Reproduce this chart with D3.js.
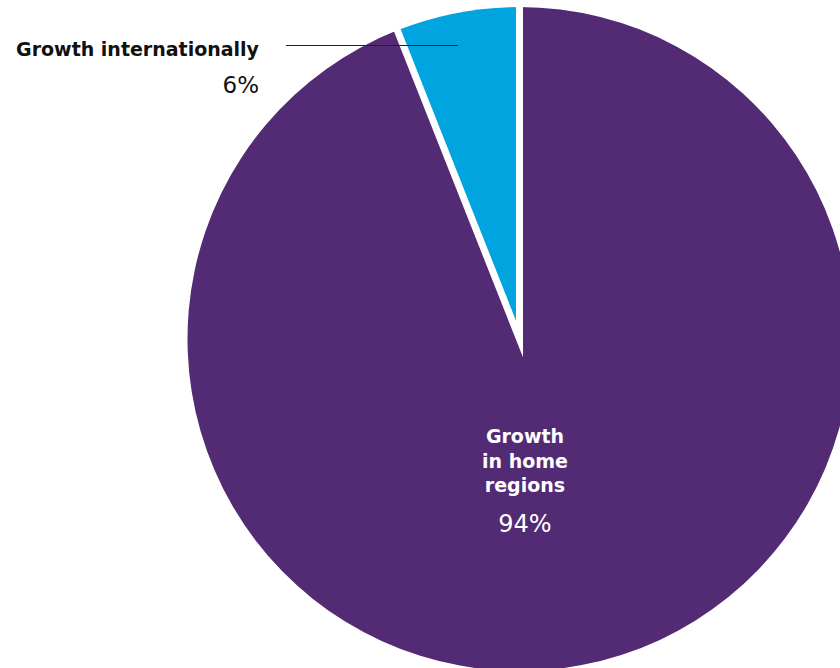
<!DOCTYPE html>
<html>
<head>
<meta charset="utf-8">
<script src="https://cdn.jsdelivr.net/npm/d3@7"></script>
<style>
  html, body { margin: 0; padding: 0; background: #ffffff; }
  svg { display: block; }
  text { font-family: "DejaVu Sans", sans-serif; }
</style>
</head>
<body>
<svg id="chart" width="840" height="668"></svg>
<script>
// Share of growth by source (percent)
const categories = ["Growth in home regions", "Growth internationally"];
const shares = [94, 6];
const sliceColors = ["#532a74", "#00a5e0"];
const homeLabelLines = ["Growth", "in home", "regions"];
const intlLabel = "Growth internationally";

const svg = d3.select("#chart");
const width = 840, height = 668;
const cx = 519.5, cy = 339, radius = 332;

const data = categories.map((c, i) => ({ name: c, value: shares[i], color: sliceColors[i] }));

const pie = d3.pie().value(d => d.value).sort(null);
const arcs = pie(data);
const arc = d3.arc().innerRadius(0).outerRadius(radius);

const g = svg.append("g").attr("transform", `translate(${cx},${cy})`);

g.selectAll("path.slice")
  .data(arcs)
  .join("path")
  .attr("class", "slice")
  .attr("d", arc)
  .attr("fill", d => d.data.color);

// White separator along the two slice boundaries, meeting at the centre
const small = arcs[1];
const pt = (a, r) => [Math.sin(a) * r, -Math.cos(a) * r];
const sep = d3.path();
const p1 = pt(small.startAngle, radius + 12);
const p2 = pt(small.endAngle, radius + 12);
sep.moveTo(p1[0], p1[1]);
sep.lineTo(0, 0);
sep.lineTo(p2[0], p2[1]);
g.append("path")
  .attr("d", sep.toString())
  .attr("fill", "none")
  .attr("stroke", "#ffffff")
  .attr("stroke-width", 7)
  .attr("stroke-linejoin", "miter")
  .attr("stroke-miterlimit", 12);

// Label inside the large slice
const home = svg.append("g").attr("text-anchor", "middle").attr("fill", "#ffffff");
home.selectAll("text.line")
  .data(homeLabelLines)
  .join("text")
  .attr("class", "line")
  .attr("x", 525)
  .attr("y", (d, i) => 443 + i * 24.5)
  .attr("font-size", 19)
  .attr("font-weight", "bold")
  .text(d => d);
home.append("text")
  .attr("x", 525)
  .attr("y", 532)
  .attr("font-size", 24)
  .text(d3.format("d")(arcs[0].data.value) + "%");

// Callout label for the small slice
const intl = svg.append("g").attr("text-anchor", "end").attr("fill", "#111111");
intl.append("text")
  .attr("x", 259)
  .attr("y", 56)
  .attr("font-size", 19)
  .attr("font-weight", "bold")
  .text(intlLabel);
intl.append("text")
  .attr("x", 259)
  .attr("y", 93)
  .attr("font-size", 23)
  .text(d3.format("d")(arcs[1].data.value) + "%");

svg.append("line")
  .attr("x1", 286).attr("x2", 458)
  .attr("y1", 45.5).attr("y2", 45.5)
  .attr("stroke", "#222222")
  .attr("stroke-width", 1);
</script>
</body>
</html>
